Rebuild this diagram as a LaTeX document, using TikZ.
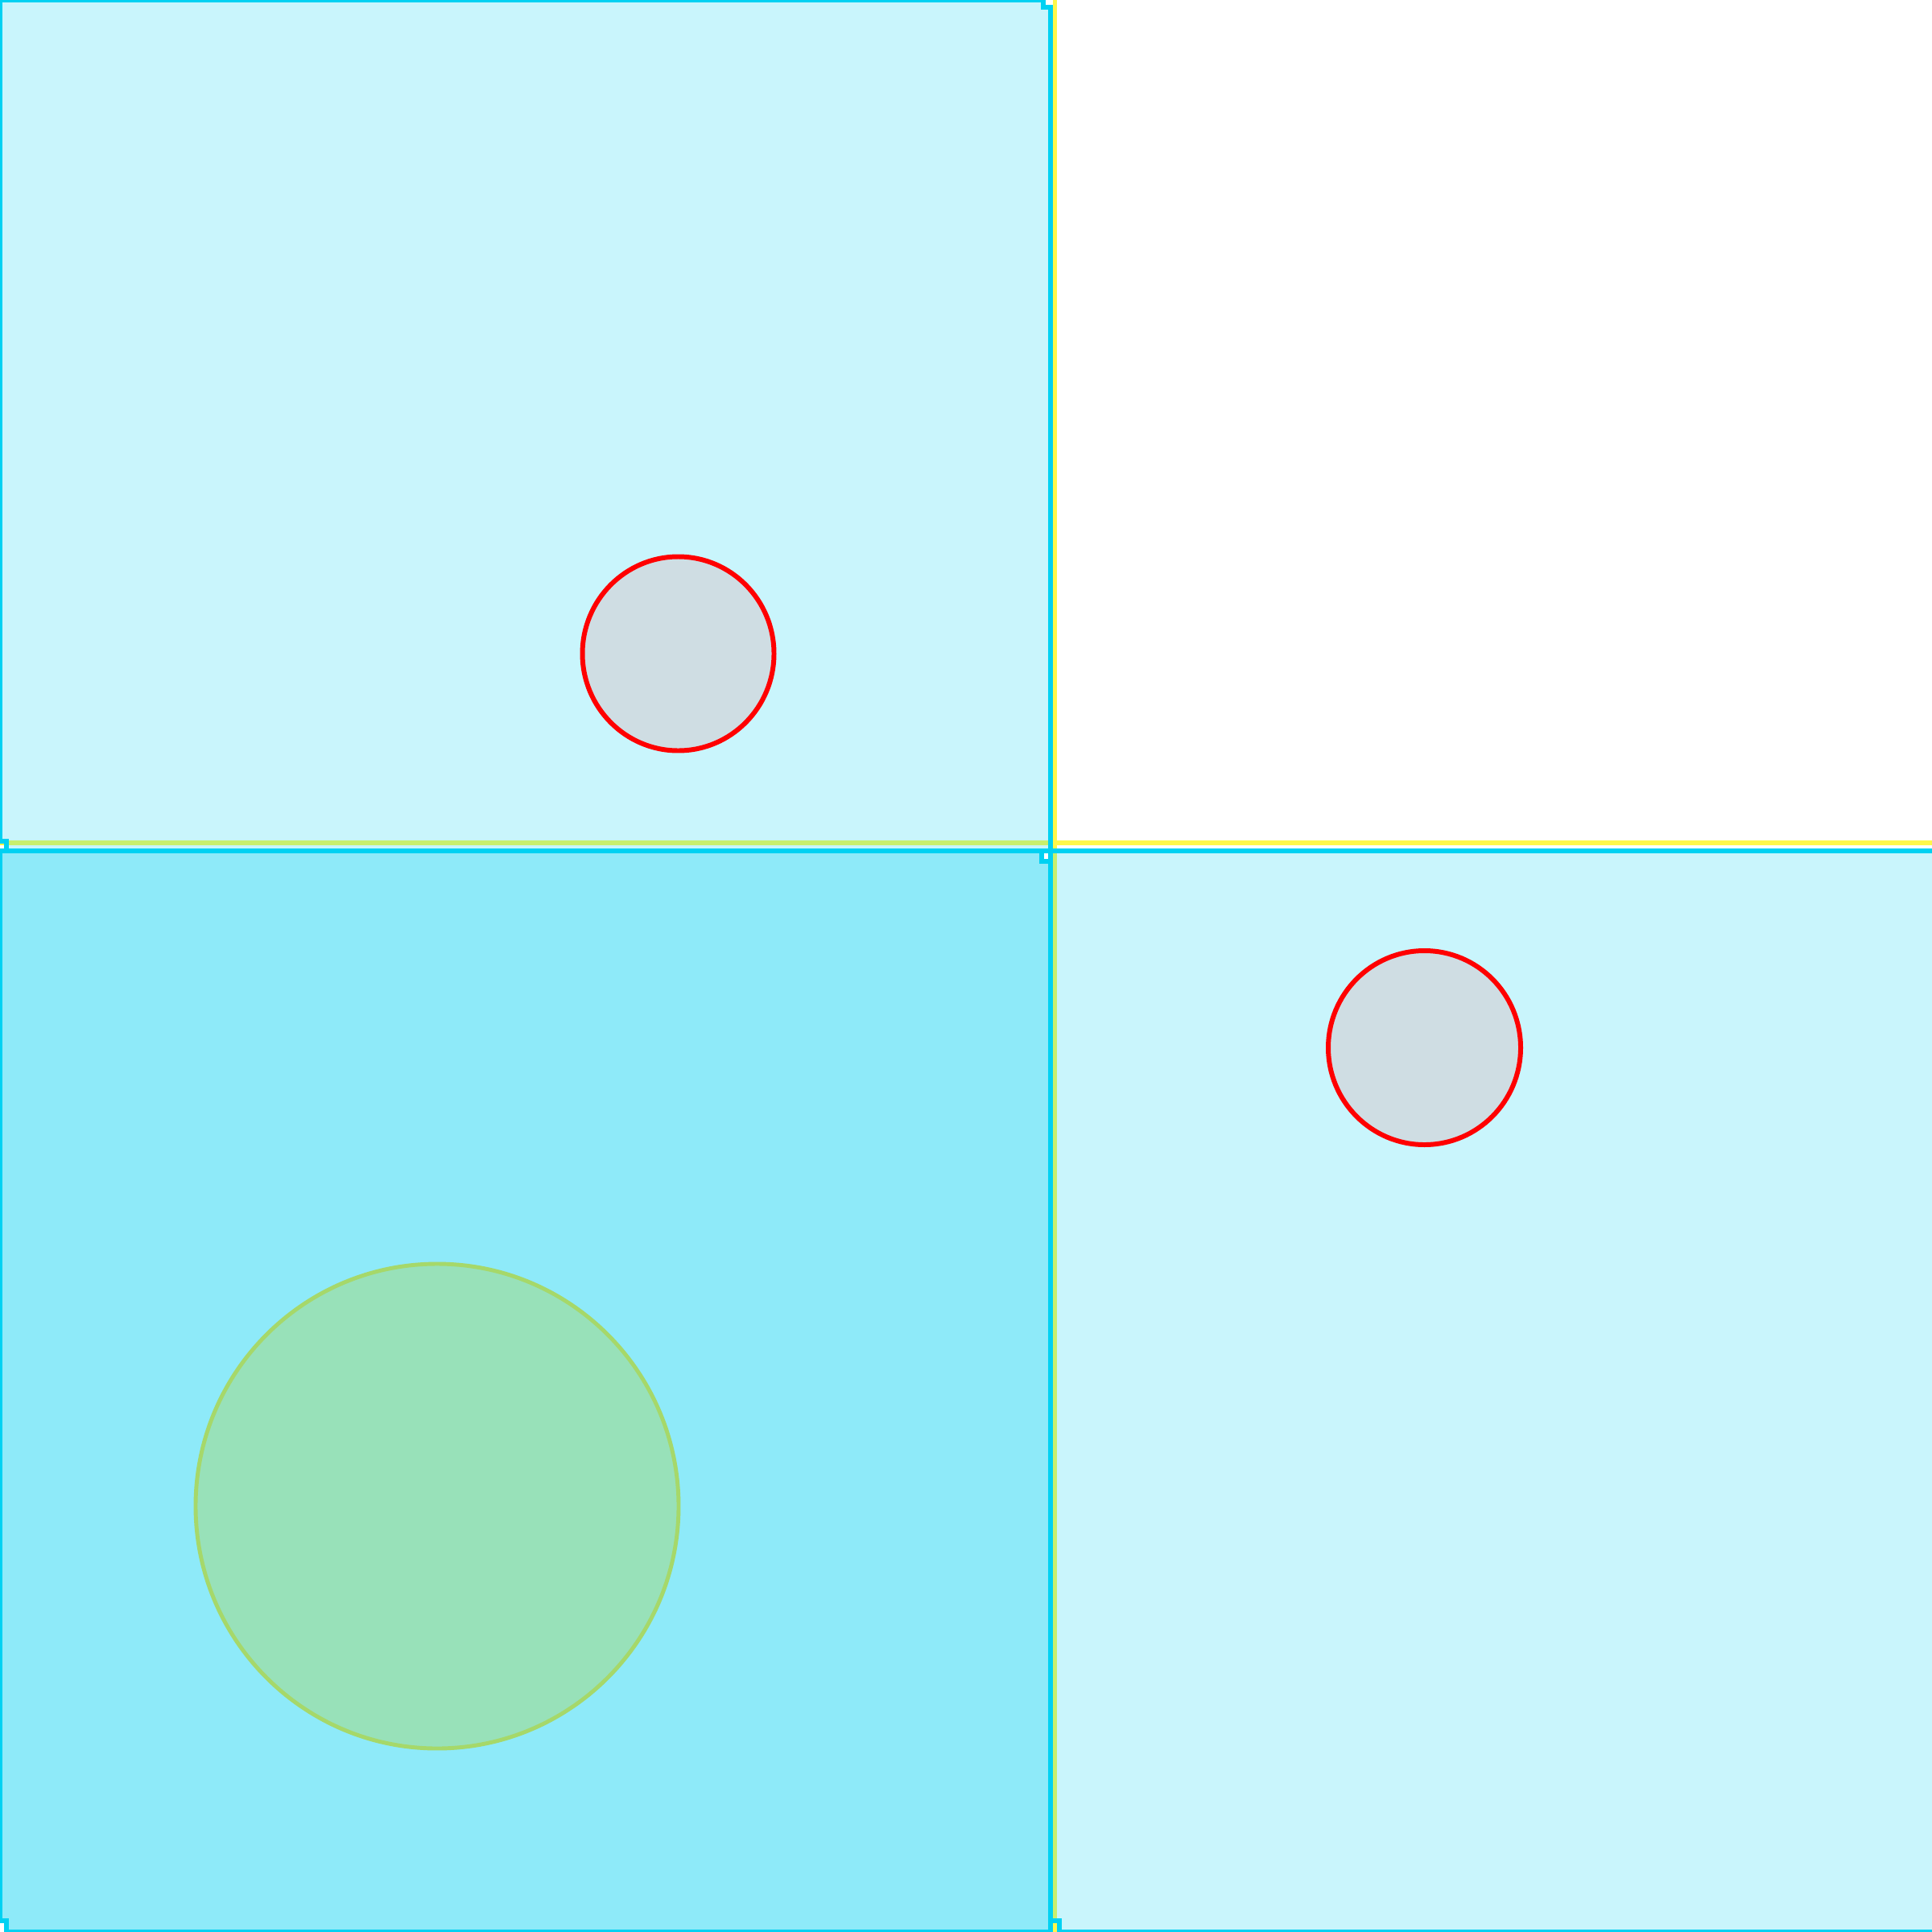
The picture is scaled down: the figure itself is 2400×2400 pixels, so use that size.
\documentclass[tikz,border=0pt]{standalone}
\definecolor{cyanB}{RGB}{0,209,242}
\definecolor{yellowL}{RGB}{255,248,74}
\definecolor{redC}{RGB}{255,0,0}
\definecolor{redFill}{RGB}{207,221,227}
\definecolor{greenFill}{RGB}{152,225,185}
\definecolor{greenLine}{RGB}{166,216,106}
\tikzset{
  guide/.style={draw=yellowL, line width=1.6pt},
  tile/.style={draw=cyanB, line width=1.7pt, fill=cyanB, fill opacity=0.21, draw opacity=1},
  tiledark/.style={tile, fill opacity=0.445},
  redring/.style={draw=redC, fill=redFill, line width=1.7pt},
  greenring/.style={draw=greenLine, fill=greenFill, line width=1.4pt}
}
\begin{document}
\begin{tikzpicture}[x=0.01cm,y=-0.01cm]
\useasboundingbox (0,0) rectangle (2400,2400);
\fill[white] (0,0) rectangle (2400,2400);
% yellow guide lines
\draw[guide] (1310.5,-10) -- (1310.5,2410);
\draw[guide] (-10,1047) -- (2410,1047);
% top-left tile
\draw[tile] (0,0) -- (1296,0) -- (1296,9) -- (1305,9) -- (1305,1057) -- (8,1057) -- (8,1045) -- (0,1045) -- cycle;
% bottom-left tile
\draw[tiledark] (0,1057) -- (1294,1057) -- (1294,1070) -- (1305,1070) -- (1305,2399.5) -- (8,2399.5) -- (8,2386) -- (0,2386) -- cycle;
% bottom-right tile
\draw[tile] (1305,1057) -- (2420,1057) -- (2420,2399.5) -- (1315.5,2399.5) -- (1315.5,2386) -- (1305,2386) -- cycle;
% circles
\draw[redring] (842.5,812) ellipse [x radius=119, y radius=120.5];
\draw[redring] (1769.5,1301.5) ellipse [x radius=119.5, y radius=120.5];
\draw[greenring] (543,1871) ellipse [x radius=300, y radius=301];
\end{tikzpicture}
\end{document}
